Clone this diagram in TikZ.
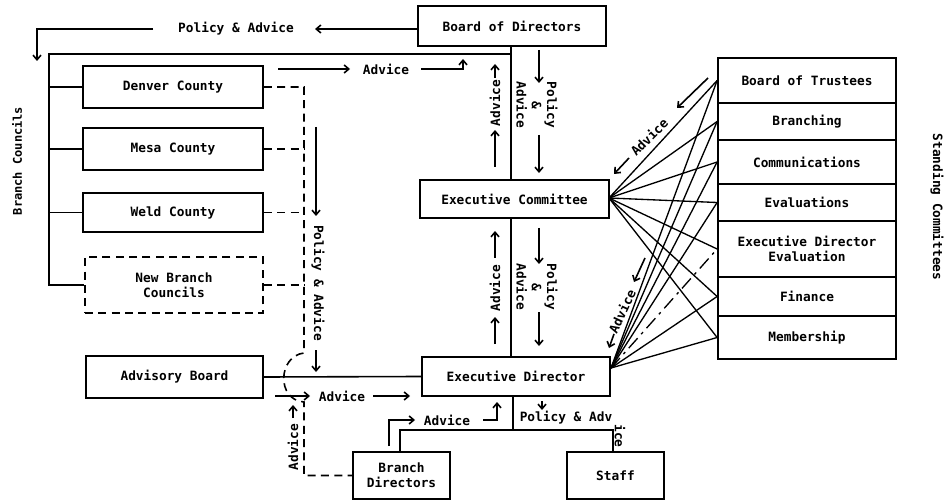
\documentclass[tikz,border=0pt]{standalone}
\usepackage{fontspec}
\setmainfont{DejaVu Sans Mono}
\usetikzlibrary{arrows.meta}
\begin{document}
\begin{tikzpicture}[x=0.75pt,y=-0.75pt,
  font=\bfseries\fontsize{9.6}{11.5}\selectfont,
  every path/.style={line width=1.2pt},
  bx/.style={draw,line width=1.3pt,inner sep=0pt,align=center},
  dbx/.style={bx,dash pattern=on 6pt off 4pt},
  dsh/.style={dash pattern=on 6pt off 4pt},
  arw/.style={-{Straight Barb[length=3.5pt,width=6pt]}},
  lbl/.style={inner sep=0pt,align=center}]
\useasboundingbox (0,0) rectangle (949,502);
% boxes
\node[bx,minimum width=141pt,minimum height=30pt] (bod) at (512,26) {Board of Directors};
\node[bx,minimum width=135pt,minimum height=31.5pt] (denver) at (173,87) {Denver County};
\node[bx,minimum width=135pt,minimum height=31.5pt] (mesa) at (173,149) {Mesa County};
\node[bx,minimum width=135pt,minimum height=29.25pt] (weld) at (173,212.5) {Weld County};
\node[dbx,minimum width=133.5pt,minimum height=42pt] (newb) at (174,285) {New Branch\\Councils};
\node[bx,minimum width=132.75pt,minimum height=31.5pt] (advb) at (174.5,377) {Advisory Board};
\node[bx,minimum width=141.75pt,minimum height=28.5pt] (ec) at (514.5,199) {Executive Committee};
\node[bx,minimum width=141pt,minimum height=29.25pt] (ed) at (516,376.5) {Executive Director};
\node[bx,minimum width=72.75pt,minimum height=35.25pt] (bd) at (401.5,475.5) {Branch\\Directors};
\node[bx,minimum width=72.75pt,minimum height=35.25pt] (staff) at (615.5,475.5) {Staff};
% standing committees
\node[bx,minimum width=133.5pt,minimum height=33.75pt] (r1) at (807,80.5) {Board of Trustees};
\node[bx,minimum width=133.5pt,minimum height=27.75pt] (r2) at (807,121.5) {Branching};
\node[bx,minimum width=133.5pt,minimum height=33pt] (r3) at (807,162) {Communications};
\node[bx,minimum width=133.5pt,minimum height=27.75pt] (r4) at (807,202.5) {Evaluations};
\node[bx,minimum width=133.5pt,minimum height=42pt] (r5) at (807,249) {Executive Director\\Evaluation};
\node[bx,minimum width=133.5pt,minimum height=29.25pt] (r6) at (807,296.5) {Finance};
\node[bx,minimum width=133.5pt,minimum height=32.25pt] (r7) at (807,337.5) {Membership};
% side labels
\node[lbl,rotate=90,font=\bfseries\fontsize{9}{11}\selectfont] (bclab) at (17,161) {Branch Councils};
\node[lbl,rotate=-90] (sclab) at (937,207) {Standing Committees};
% branch councils bracket
\draw (newb.west) -| (49,54) -- (511,54);
\draw (denver.west) -- (denver.west -| 49,0);
\draw (mesa.west) -- (mesa.west -| 49,0);
\draw (weld.west) -- (weld.west -| 49,0);
% main vertical spine
\draw (bod.south -| 511,0) -- (ec.north -| 511,0);
\draw (ec.south -| 511,0) -- (ed.north -| 511,0);
\draw (advb.east) -- (ed.west);
% top policy & advice
\draw[arw] (bod.west |- 0,29) -- (315,29);
\node[lbl] (pa1) at (236,29) {Policy \& Advice};
\draw[arw] (153,29) -| (37,61);
% top advice
\draw[arw] (278,69) -- (350,69);
\node[lbl] (ad1) at (386,69) {Advice};
\draw[arw] (421,69) -| (463,59);
% bod - ec labels
\draw[arw] (495,167) -- (495,130);
\node[lbl,rotate=90] (ad2) at (495,103) {Advice};
\draw[arw] (495,78) -- (495,64);
\draw[arw] (539,50) -- (539,83);
\node[lbl,rotate=-90] (pa2) at (537,105) {Policy\\\&\\Advice};
\draw[arw] (539,135) -- (539,173);
% ec - ed labels
\draw[arw] (495,258) -- (495,231);
\node[lbl,rotate=90] (ad3) at (495,288) {Advice};
\draw[arw] (495,344) -- (495,317);
\draw[arw] (539,228) -- (539,264);
\node[lbl,rotate=-90] (pa3) at (537,287) {Policy\\\&\\Advice};
\draw[arw] (539,312) -- (539,346);
% dashed branch council links
\draw[dsh] (denver.east) -| (304,353) .. controls (278,356) and (276,400) .. (304,402) |- (bd.west);
\draw[dsh] (mesa.east) -- (mesa.east -| 304,0);
\draw[dsh] (weld.east) -- (weld.east -| 304,0);
\draw[dsh] (newb.east) -- (newb.east -| 304,0);
% vertical policy & advice to ED
\draw[arw] (316,127) -- (316,216);
\node[lbl,rotate=-90] (pa4) at (318,283) {Policy \& Advice};
\draw[arw] (316,350) -- (316,372);
% advice from advisory board
\draw[arw] (275,396) -- (310,396);
\node[lbl] (ad4) at (342,396) {Advice};
\draw[arw] (373,396) -- (410,396);
% advice from branch directors (dashed path)
\draw[arw] (293,418) -- (293,405);
\node[lbl,rotate=90] (ad5) at (293,447) {Advice};
% ED to branch directors and staff
\draw (ed.south -| 513,0) -- (513,430);
\draw (bd.north -| 400,0) |- (613,430) -- (staff.north -| 613,0);
\draw[arw] (389,446) |- (415,420);
\node[lbl] (ad6) at (447,420) {Advice};
\draw[arw] (483,420) -| (497,402);
\draw[arw] (542,401) -- (542,410);
\node[lbl] (pa5) at (566,418) {Policy \& Adv};
\node[lbl,rotate=-90] (pa6) at (620,436) {ice};
% fans
\coordinate (ecf) at (609,198);
\coordinate (edf) at (611,368);
\foreach \r in {r1,r2,r3,r4,r5,r6,r7} \draw[line width=1pt] (ecf) -- (\r.west);
\foreach \r in {r1,r2,r3,r4,r6,r7} \draw[line width=1pt] (edf) -- (\r.west);
\draw[line width=1pt,dash pattern=on 10pt off 4pt on 2pt off 4pt] (edf) -- (r5.west);
% diagonal advice labels
\draw[arw] (708,78) -- (677,108);
\node[lbl,rotate=45] (ad7) at (649,137) {Advice};
\draw[arw] (629,158) -- (614,174);
\draw[arw] (645,258) -- (634,282);
\node[lbl,rotate=65] (ad8) at (622,311) {Advice};
\draw[arw] (614,334) -- (609,348);
\end{tikzpicture}
\end{document}
